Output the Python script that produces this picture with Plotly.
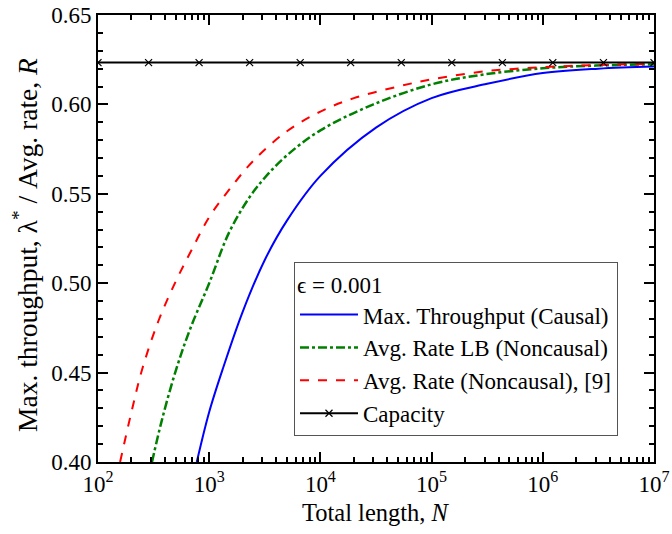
import plotly.graph_objects as go

# Data
N_causal = [773, 1000, 1340, 2000, 3160, 5000, 10000, 31600, 100000, 316000, 1000000, 3160000, 10000000]
R_causal = [0.400, 0.428, 0.453, 0.484, 0.513, 0.535, 0.560, 0.587, 0.6035, 0.6115, 0.6175, 0.6200, 0.6212]

N_lb = [306, 375, 500, 670, 1000, 1500, 2300, 3160, 5000, 10000, 30000, 100000, 300000, 1000000, 3000000, 10000000]
R_lb = [0.400, 0.4233, 0.451, 0.474, 0.500, 0.528, 0.548, 0.559, 0.5715, 0.5855, 0.600, 0.6112, 0.6168, 0.6202, 0.6217, 0.6224]

N_nc = [158, 200, 250, 350, 500, 700, 1000, 1500, 2500, 5000, 10000, 20000, 50000, 100000, 300000, 1000000, 3000000, 10000000]
R_nc = [0.400, 0.428, 0.452, 0.479, 0.501, 0.519, 0.537, 0.552, 0.5685, 0.585, 0.596, 0.6035, 0.6100, 0.6140, 0.6185, 0.6208, 0.6220, 0.6227]

N_cap = [100, 285, 811, 2310, 6580, 18700, 53400, 152000, 433000, 1230000, 3510000, 10000000]
R_cap = [0.6234] * len(N_cap)

x_tickvals = [1e2, 1e3, 1e4, 1e5, 1e6, 1e7]
x_ticktext = ["10<sup>2</sup>", "10<sup>3</sup>", "10<sup>4</sup>", "10<sup>5</sup>", "10<sup>6</sup>", "10<sup>7</sup>"]
y_tickvals = [0.40, 0.45, 0.50, 0.55, 0.60, 0.65]
y_ticktext = ["0.40", "0.45", "0.50", "0.55", "0.60", "0.65"]

minor_x = [m * 10 ** e for e in range(2, 7) for m in range(2, 10)]

FONT = "Liberation Serif, Times New Roman, DejaVu Serif, serif"

fig = go.Figure()
fig.add_trace(go.Scatter(x=N_causal, y=R_causal, mode="lines", line=dict(color="#0000FF", width=2, shape="spline"),
                         name="Max. Throughput (Causal)"))
fig.add_trace(go.Scatter(x=N_lb, y=R_lb, mode="lines", line=dict(color="#008000", width=2.5, dash="dashdot", shape="spline"),
                         name="Avg. Rate LB (Noncausal)"))
fig.add_trace(go.Scatter(x=N_nc, y=R_nc, mode="lines", line=dict(color="#FF0000", width=2, dash="dash", shape="spline"),
                         name="Avg. Rate (Noncausal), [9]"))
fig.add_trace(go.Scatter(x=N_cap, y=R_cap, mode="lines+markers", line=dict(color="black", width=2),
                         marker=dict(symbol="x-thin", size=7, line=dict(color="black", width=1.2)),
                         name="Capacity"))

fig.update_layout(
    width=672, height=534,
    margin=dict(l=98, r=18, t=15, b=72),
    paper_bgcolor="white", plot_bgcolor="white",
    font=dict(family=FONT, color="black", size=23),
    showlegend=True,
    legend=dict(
        x=0.3525, y=0.447, xanchor="left", yanchor="top",
        bgcolor="white", bordercolor="#555555", borderwidth=1,
        font=dict(family=FONT, size=23, color="black"),
        title=dict(text="\u03f5 = 0.001", font=dict(family=FONT, size=23)),
        tracegroupgap=0, itemwidth=58,
    ),
    annotations=[
        dict(text="Total length, <i>N</i>", xref="paper", yref="paper", x=0.5, y=-0.112,
             xanchor="center", yanchor="middle", showarrow=False, font=dict(family=FONT, size=24.5)),
        dict(text="Max. throughput, \u03bb<sup>*</sup> / Avg. rate, <i>R</i>", xref="paper", yref="paper",
             x=-0.1295, y=0.4855, xanchor="center", yanchor="middle", textangle=-90, showarrow=False,
             font=dict(family=FONT, size=27.5)),
    ],
)

fig.update_xaxes(
    type="log", range=[2, 7], automargin=False, ticklabeloverflow="allow",
    tickmode="array", tickvals=x_tickvals, ticktext=x_ticktext,
    ticks="inside", ticklen=10, tickwidth=1.5, tickcolor="black",
    minor=dict(tickmode="array", tickvals=minor_x, ticks="inside", ticklen=5, tickwidth=1.5, tickcolor="black", showgrid=False),
    showline=True, linecolor="black", linewidth=2, mirror="ticks",
    showgrid=False, zeroline=False,
    tickfont=dict(family=FONT, size=23),
)
fig.update_yaxes(
    range=[0.40, 0.65], automargin=False, ticklabeloverflow="allow",
    tickmode="array", tickvals=y_tickvals, ticktext=y_ticktext,
    ticks="inside", ticklen=10, tickwidth=1.5, tickcolor="black",
    minor=dict(dtick=0.01, ticks="inside", ticklen=5, tickwidth=1.5, tickcolor="black", showgrid=False),
    showline=True, linecolor="black", linewidth=2, mirror="ticks",
    showgrid=False, zeroline=False,
    tickfont=dict(family=FONT, size=23),
)

fig.write_html("out.html", config={"displayModeBar": False},
               post_script="document.body.style.margin='0';document.body.style.overflow='hidden';")
